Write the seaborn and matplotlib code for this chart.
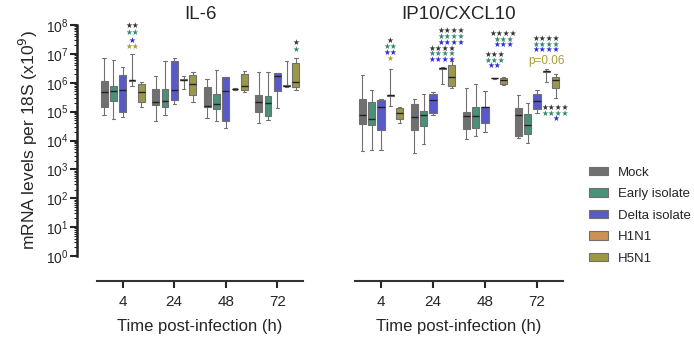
import numpy as np
import pandas as pd
import matplotlib
matplotlib.use("Agg")
import matplotlib.pyplot as plt
import seaborn as sns
from matplotlib.ticker import LogLocator, NullFormatter

# log10 values per box: [min, q1, median, q3, max], one entry per time point
times = ["4", "24", "48", "72"]
groups = ["Mock", "Early isolate", "Delta isolate", "H1N1", "H5N1"]
colors = ["#707070", "#3f9c7c", "#4646dc", "#e0913f", "#aaa43c"]

il6_mock = [[4.90, 5.16, 5.67, 6.07, 6.85], [4.67, 5.22, 5.34, 5.78, 6.22],
            [4.78, 5.16, 5.21, 5.85, 6.13], [4.59, 5.00, 5.34, 5.56, 6.36]]
il6_early = [[4.75, 5.36, 5.70, 5.90, 6.79], [4.90, 5.16, 5.38, 5.79, 6.76],
             [4.67, 5.09, 5.26, 5.62, 6.45], [4.70, 4.84, 5.30, 5.53, 6.36]]
il6_delta = [[4.82, 5.00, 5.74, 6.26, 6.56], [5.26, 5.41, 5.76, 6.74, 6.85],
             [4.44, 4.67, 5.70, 6.20, 6.20], [5.13, 5.70, 6.24, 6.33, 6.33]]
il6_h1n1 = [[5.90, 6.07, 6.09, 6.11, 7.00], [5.78, 6.08, 6.10, 6.12, 6.22],
            [5.74, 5.77, 5.78, 5.79, 5.82], [5.85, 5.88, 5.90, 5.92, 6.74]]
il6_h5n1 = [[5.16, 5.34, 5.67, 5.95, 6.03], [5.34, 5.56, 5.97, 6.28, 6.36],
            [5.67, 5.74, 5.90, 6.31, 6.41], [5.76, 5.85, 6.01, 6.68, 6.85]]

ip10_mock = [[3.63, 4.57, 4.90, 5.44, 6.28], [3.55, 4.36, 4.82, 5.28, 5.44],
             [4.06, 4.41, 4.84, 4.99, 5.82], [4.09, 4.17, 4.87, 5.13, 5.59]]
ip10_early = [[3.66, 4.55, 4.76, 5.32, 5.74], [3.89, 4.49, 4.90, 5.01, 5.62],
              [4.15, 4.44, 4.84, 5.15, 5.97], [3.90, 4.21, 4.55, 4.92, 5.30]]
ip10_delta = [[3.66, 4.36, 5.15, 5.41, 5.44], [4.90, 4.95, 5.41, 5.61, 5.67],
              [4.29, 4.61, 5.16, 5.16, 5.72], [4.95, 5.09, 5.38, 5.61, 5.74]]
ip10_h1n1 = [[5.18, 5.54, 5.56, 5.58, 6.47], [5.95, 6.49, 6.51, 6.52, 6.53],
             [6.14, 6.15, 6.16, 6.17, 6.18], [6.01, 6.37, 6.39, 6.41, 6.47]]
ip10_h5n1 = [[4.61, 4.76, 4.95, 5.13, 5.16], [5.82, 5.90, 6.20, 6.61, 6.76],
             [5.93, 5.95, 6.10, 6.18, 6.19], [5.47, 5.82, 6.08, 6.20, 6.31]]

# significance marks: (time index, group, log10 y, text, colour)
BK, GR, BL, OL = "#333333", "#2e8a6a", "#2a2ad8", "#a8a032"
il6_marks = [(0, "H1N1", 8.00, "★★", BK), (0, "H1N1", 7.75, "★★", GR),
             (0, "H1N1", 7.48, "★", BL), (0, "H1N1", 7.25, "★★", OL),
             (3, "H5N1", 7.40, "★", BK), (3, "H5N1", 7.16, "★", GR)]
ip10_marks = [(0, "H1N1", 7.46, "★", BK), (0, "H1N1", 7.25, "★★", GR),
              (0, "H1N1", 7.06, "★★", BL), (0, "H1N1", 6.83, "★", OL),
              (1, "H1N1", 7.20, "★★★★", BK), (1, "H1N1", 7.00, "★★★★", GR),
              (1, "H1N1", 6.79, "★★★★", BL),
              (1, "H5N1", 7.80, "★★★★", BK), (1, "H5N1", 7.60, "★★★★", GR),
              (1, "H5N1", 7.39, "★★★★", BL),
              (2, "H1N1", 6.97, "★★★", BK), (2, "H1N1", 6.76, "★★★", GR),
              (2, "H1N1", 6.59, "★★", BL),
              (2, "H5N1", 7.69, "★★★★", BK), (2, "H5N1", 7.50, "★★★", GR),
              (2, "H5N1", 7.31, "★★★", BL),
              (3, "H1N1", 7.54, "★★★★", BK), (3, "H1N1", 7.34, "★★★★", GR),
              (3, "H1N1", 7.16, "★★★★", BL), (3, "H1N1", 6.77, "p=0.06", OL),
              (3, "H5N1", 5.15, "★★★★", BK), (3, "H5N1", 4.95, "★★★★", GR),
              (3, "H5N1", 4.76, "★", BL)]


def to_frame(series):
    rows = []
    for grp, vals in zip(groups, series):
        for t, five in zip(times, vals):
            for v in five:
                rows.append({"time": t, "group": grp, "value": 10 ** v})
    return pd.DataFrame(rows)


sns.set_style("white")
plt.rcParams["font.family"] = ["Liberation Sans", "DejaVu Sans"]

fig = plt.figure(figsize=(6.94, 3.45), dpi=100)
ax1 = fig.add_axes([97 / 694, 1 - 256 / 345, 206 / 694, 231 / 345])
ax2 = fig.add_axes([355 / 694, 1 - 256 / 345, 208 / 694, 231 / 345])

panels = [(ax1, "IL-6", [il6_mock, il6_early, il6_delta, il6_h1n1, il6_h5n1], il6_marks),
          (ax2, "IP10/CXCL10", [ip10_mock, ip10_early, ip10_delta, ip10_h1n1, ip10_h5n1], ip10_marks)]

for ax, title, series, marks in panels:
    df = to_frame(series)
    sns.boxplot(data=df, x="time", y="value", hue="group", order=times,
                hue_order=groups, palette=colors, log_scale=True, whis=(0, 100),
                width=0.9, gap=0.25, linecolor="#707070", linewidth=0.8,
                medianprops={"color": "#222222", "linewidth": 1.0},
                showfliers=False, legend=(ax is ax1), ax=ax)
    ax.set_ylim(1, 1e8)
    ax.set_xlim(-0.5, 3.5)
    ax.set_title(title, fontsize=13.5, pad=4)
    ax.set_xlabel("Time post-infection (h)", fontsize=12, labelpad=7)
    ax.tick_params(axis="x", length=5, width=1.5, labelsize=11, pad=5, direction="out", bottom=True)
    for s in ["top", "right"]:
        ax.spines[s].set_visible(False)
    ax.spines["bottom"].set_position(("outward", 18))
    ax.spines["bottom"].set_linewidth(1.5)
    ax.spines["bottom"].set_color("#333333")
    for ti, grp, ly, txt, col in marks:
        xpos = ti + (groups.index(grp) - 2) * 0.18
        ax.text(xpos, 10 ** ly, txt, color=col, ha="center", va="center",
                fontsize=5.5 if "★" in txt else 8.5,
                family=["DejaVu Sans"] if "★" in txt else None, clip_on=False)

ax1.spines["left"].set_position(("outward", 14.4))
ax1.spines["left"].set_linewidth(1.8)
ax1.spines["left"].set_color("#222222")
ax1.set_yticks([10.0 ** k for k in range(9)])
ax1.yaxis.set_minor_locator(LogLocator(base=10, subs=np.arange(2, 10), numticks=20))
ax1.yaxis.set_minor_formatter(NullFormatter())
ax1.tick_params(axis="y", which="major", length=5, width=1.5, labelsize=10, pad=1, left=True)
ax1.tick_params(axis="y", which="minor", length=2.5, width=0.8, left=True)
ax1.set_ylabel("mRNA levels per 18S (x10$^9$)", fontsize=12.5, labelpad=4)

ax2.spines["left"].set_visible(False)
ax2.set_yticks([])
ax2.tick_params(axis="y", which="both", left=False, labelleft=False)
ax2.set_ylabel("")

handles, labels = ax1.get_legend_handles_labels()
ax1.get_legend().remove()
fig.legend(handles, labels, loc="upper left", bbox_to_anchor=(582 / 694, 1 - 160 / 345),
           frameon=False, fontsize=9.5, handlelength=1.5, handleheight=0.6,
           labelspacing=0.72, handletextpad=0.7, borderpad=0)

fig.savefig("out.png", dpi=100)
